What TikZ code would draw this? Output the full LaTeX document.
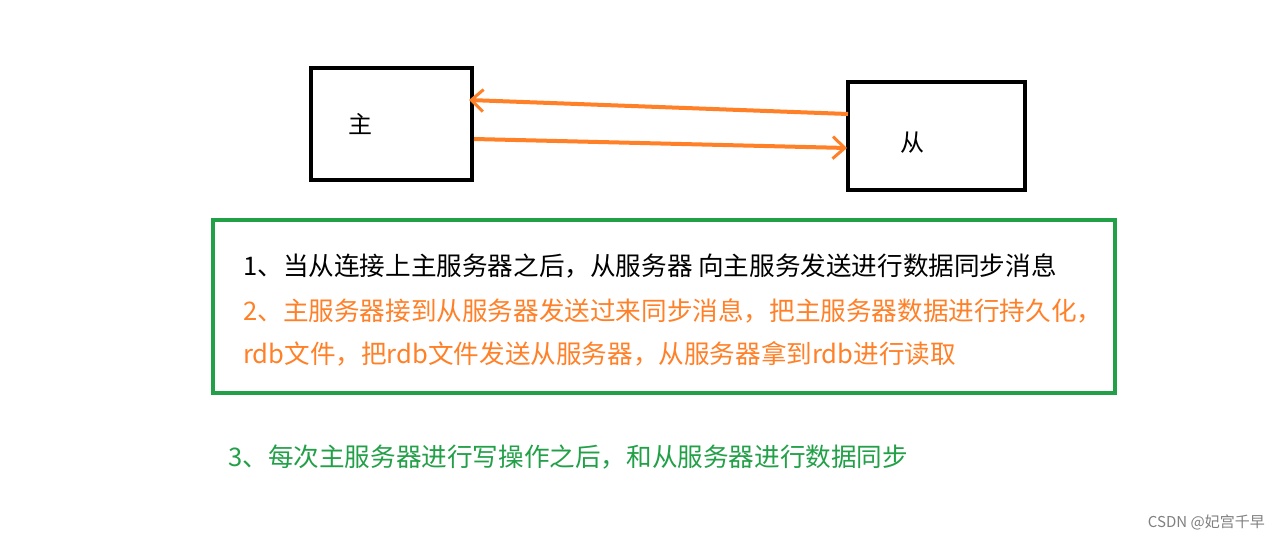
\documentclass[tikz,border=0pt]{standalone}
\usepackage{fontspec}
\newfontfamily\cjk{Noto Sans CJK SC}
\usetikzlibrary{arrows.meta}
\definecolor{org}{RGB}{255,128,39}
\definecolor{grn}{RGB}{34,160,72}
\tikzset{
  box/.style={draw=black,line width=4pt,inner sep=0pt},
  conn/.style={draw=org,line width=4pt,-{Straight Barb[length=12pt,width=22pt,line width=3pt]}},
  txt/.style={anchor=west,font=\cjk\fontsize{25.6}{30}\selectfont,inner sep=0pt}
}
\begin{document}
\begin{tikzpicture}[x=1pt,y=-1pt]
\useasboundingbox[fill=white] (0,0) rectangle (1281,540);
\node[box,minimum width=161pt,minimum height=112pt] (m) at (391.5,124) {};
\node[font=\cjk\fontsize{24}{28}\selectfont] at (360,124) {主};
\node[box,minimum width=177pt,minimum height=108pt] (s) at (936.5,136) {};
\node[font=\cjk\fontsize{24}{28}\selectfont] at (912,143) {从};
\coordinate (a1) at (848,114); \coordinate (a2) at (469,100);
\coordinate (b1) at (474,139); \coordinate (b2) at (847,148);
\draw[conn] (a1) -- (a2);
\draw[conn] (b1) -- (b2);
\node[draw=grn,line width=4pt,minimum width=902pt,minimum height=173pt] (g) at (664,306.5) {};
\node[txt,text=black] (t1) at (243,266) {1、当从连接上主服务器之后，从服务器 向主服务发送进行数据同步消息};
\node[txt,text=org] (t2) at (243,311) {2、主服务器接到从服务器发送过来同步消息，把主服务器数据进行持久化，};
\node[txt,text=org] (t3) at (243,354) {rdb文件，把rdb文件发送从服务器，从服务器拿到rdb进行读取};
\node[txt,text=grn] (t4) at (228,457) {3、每次主服务器进行写操作之后，和从服务器进行数据同步};
\node[anchor=east,inner sep=0pt,text=gray,font=\cjk\fontsize{15}{17}\selectfont] (w) at (1265,522) {CSDN @妃宫千早};
\end{tikzpicture}
\end{document}
